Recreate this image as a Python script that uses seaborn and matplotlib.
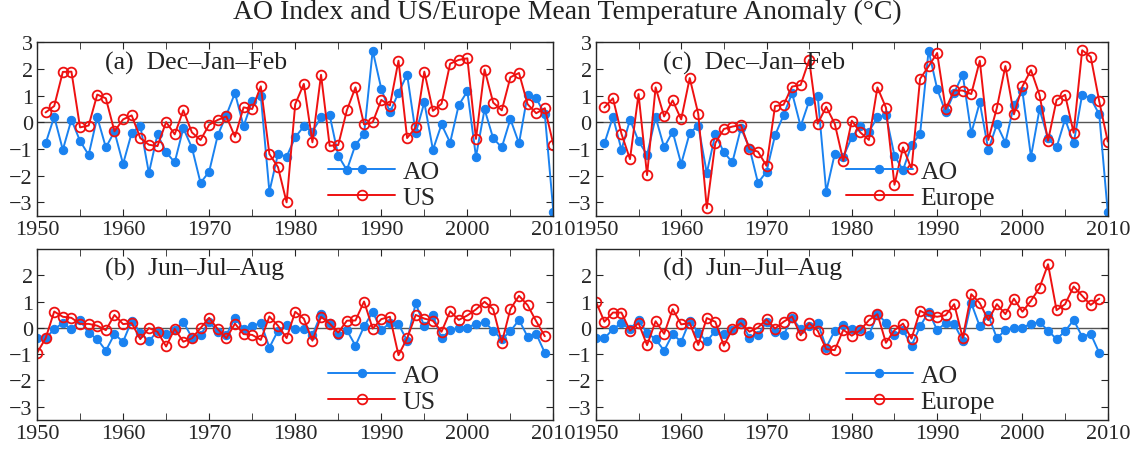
import matplotlib
matplotlib.use("Agg")
import matplotlib.pyplot as plt
import numpy as np
import pandas as pd
import seaborn as sns

sns.set_style("ticks")
plt.rcParams['font.family'] = ['Liberation Serif', 'DejaVu Serif']
plt.rcParams['mathtext.fontset'] = 'stix'

# DJF years 1951-2010, JJA years 1950-2009
years_djf = list(range(1951, 2011))
years_jja = list(range(1950, 2010))

ao_djf = [-0.79, 0.21, -1.03, 0.10, -0.70, -1.22, 0.19, -0.94, -0.35, -1.56,
          -0.40, -0.12, -1.90, -0.45, -1.12, -1.50, -0.22, -0.95, -2.27, -1.85,
          -0.49, 0.27, 1.10, -0.15, 0.80, 1.00, -2.60, -1.18, -1.29, -0.56,
          -0.15, -0.35, 0.19, 0.27, -1.25, -1.79, -0.84, -0.44, 2.69, 1.26,
          0.37, 1.11, 1.79, -0.41, 0.75, -1.03, -0.08, -0.76, 0.65, 1.16,
          -1.29, 0.49, -0.60, -0.94, 0.12, -0.79, 1.04, 0.90, 0.30, -3.38]
us_djf = [0.37, 0.61, 1.89, 1.90, -0.19, -0.12, 1.04, 0.90, -0.34, 0.11,
          0.26, -0.59, -0.84, -0.89, 0.01, -0.45, 0.45, -0.38, -0.66, -0.09,
          0.09, 0.22, -0.54, 0.56, 0.50, 1.35, -1.19, -1.68, -3.00, 0.68,
          1.44, -0.75, 1.78, -0.88, -0.85, 0.45, 1.31, -0.08, 0.00, 0.84,
          0.63, 2.31, -0.59, -0.19, 1.90, 0.43, 0.70, 2.20, 2.34, 2.40,
          -0.62, 1.98, 0.74, 0.45, 1.69, 1.85, 0.68, 0.34, 0.53, -0.84]
eu_djf = [0.56, 0.90, -0.43, -1.38, 1.06, -1.98, 1.31, 0.22, 0.82, 0.11,
          1.66, 0.32, -3.22, -0.78, -0.25, -0.16, -0.10, -1.00, -1.10, -1.63,
          0.61, 0.66, 1.34, 1.40, 2.34, -0.05, 0.58, -0.05, -1.44, 0.06,
          -0.38, -0.66, 1.31, 0.55, -2.34, -0.94, -1.75, 1.63, 2.10, 2.60,
          0.50, 1.20, 1.19, 1.06, 2.31, -0.66, 0.54, 2.11, 0.30, 1.35,
          1.96, 1.03, -0.69, 0.84, 1.03, -0.39, 2.70, 2.46, 0.79, -0.72]

ao_jja = [-0.38, -0.40, -0.05, 0.18, -0.05, 0.29, -0.20, -0.43, -0.87, -0.24,
          -0.53, 0.27, -0.18, -0.52, -0.11, -0.25, -0.10, 0.22, -0.37, -0.27,
          0.23, -0.15, -0.27, 0.37, -0.05, 0.05, 0.20, -0.75, -0.11, 0.10,
          -0.03, -0.05, -0.28, 0.52, 0.20, -0.28, -0.09, -0.68, 0.05, 0.61,
          -0.08, 0.18, 0.14, -0.49, 0.94, 0.05, 0.47, -0.39, -0.09, 0.00,
          0.01, 0.15, 0.22, -0.11, -0.43, -0.13, 0.30, -0.34, -0.23, -0.95]
us_jja = [-0.96, -0.40, 0.62, 0.42, 0.38, 0.15, 0.15, 0.08, -0.09, 0.49,
          0.14, 0.18, -0.43, -0.01, -0.15, -0.71, -0.04, -0.53, -0.40, -0.01,
          0.38, -0.05, -0.40, 0.16, -0.24, -0.27, -0.46, 0.43, 0.08, -0.39,
          0.61, 0.35, -0.49, 0.42, 0.16, -0.18, 0.27, 0.28, 1.00, -0.03,
          0.33, 0.42, -1.04, -0.40, 0.49, 0.35, 0.27, -0.15, 0.63, 0.30,
          0.47, 0.70, 0.99, 0.71, -0.56, 0.71, 1.22, 0.86, 0.25, -0.32]
eu_jja = [1.00, 0.23, 0.58, 0.58, -0.11, 0.18, -0.66, 0.25, -0.23, 0.71,
          0.13, 0.18, -0.65, 0.37, 0.23, -0.68, -0.05, 0.18, -0.15, 0.01,
          0.32, -0.03, 0.23, 0.43, -0.28, 0.18, -0.11, -0.81, -0.85, -0.08,
          -0.30, -0.09, 0.29, 0.52, -0.57, -0.09, 0.16, -0.41, 0.65, 0.48,
          0.42, 0.48, 0.90, -0.38, 1.28, 0.94, 0.29, 0.90, 0.52, 1.11,
          0.61, 1.03, 1.52, 2.42, 0.67, 0.90, 1.57, 1.22, 0.87, 1.11]

BLUE = '#1a82f0'
RED = '#ee1111'

fig = plt.figure(figsize=(11.35, 4.52), dpi=100)
w, h_top, h_bot = 0.455, 0.3836, 0.378
pos = {'a': [0.0326, 0.5206, w, h_top], 'c': [0.525, 0.5206, w - 0.004, h_top],
       'b': [0.0326, 0.069, w, h_bot], 'd': [0.525, 0.069, w - 0.004, h_bot]}

panels = [
    ('a', years_djf, ao_djf, us_djf, 'US', '(a)  Dec\u2013Jan\u2013Feb', False),
    ('c', years_djf, ao_djf, eu_djf, 'Europe', '(c)  Dec\u2013Jan\u2013Feb', False),
    ('b', years_jja, ao_jja, us_jja, 'US', '(b)  Jun\u2013Jul\u2013Aug', True),
    ('d', years_jja, ao_jja, eu_jja, 'Europe', '(d)  Jun\u2013Jul\u2013Aug', True),
]

for key, yrs, ao, temp, name, label, bottom in panels:
    ax = fig.add_axes(pos[key])
    df = pd.DataFrame({'year': yrs, 'AO': ao, name: temp})
    ax.axhline(0, color='#555555', lw=1, zorder=0)
    sns.lineplot(data=df, x='year', y='AO', ax=ax, color=BLUE, marker='o',
                 markersize=6, markeredgecolor=BLUE, lw=1.4, label='AO')
    sns.lineplot(data=df, x='year', y=name, ax=ax, color=RED, marker='o',
                 markersize=7, markerfacecolor='none', markeredgecolor=RED,
                 markeredgewidth=1.3, lw=1.4, label=name)
    ax.set_xlim(1950, 2010)
    ax.set_ylim(-3.5, 3)
    ax.set_xticks(range(1950, 2011, 10))
    ax.set_xticks(range(1955, 2010, 10), minor=True)
    if bottom:
        ax.set_yticks(range(-3, 3))
        ax.set_yticks([3], minor=True)
    else:
        ax.set_yticks(range(-3, 4))
    ax.set_yticklabels([f'\u2212{abs(t)}' if t < 0 else str(t) for t in ax.get_yticks()])
    ax.tick_params(direction='in', which='both', top=True, right=True,
                   labelsize=16, length=5, pad=3)
    ax.set_xlabel('')
    ax.set_ylabel('')
    for s in ax.spines.values():
        s.set_linewidth(1.0)
    ax.text(1957.9, 2.25, label, fontsize=18.5, va='center', color='#222222')
    ax.legend(loc='lower right', frameon=False, fontsize=18.5, handlelength=2.6,
              borderaxespad=0.0, labelspacing=0.1, handletextpad=0.3,
              bbox_to_anchor=(0.80, -0.02))

fig.suptitle('AO Index and US/Europe Mean Temperature Anomaly (\u00b0C)',
             fontsize=20, y=1.0, color='#222222')
fig.savefig('out.png', dpi=100)
